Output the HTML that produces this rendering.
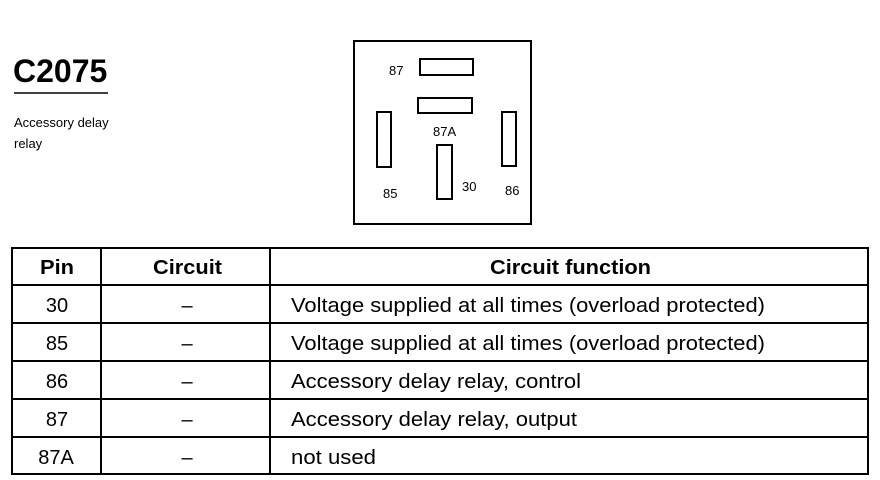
<!DOCTYPE html>
<html><head><meta charset="utf-8"><style>
html,body{margin:0;padding:0;background:#fff;width:880px;height:480px;overflow:hidden}
svg text{font-family:"Liberation Sans",Arial,sans-serif;fill:#000}
</style></head><body>
<svg width="880" height="480" viewBox="0 0 880 480" xmlns="http://www.w3.org/2000/svg">
<text x="13" y="82" font-size="32" font-weight="bold">C2075</text>
<line x1="14" y1="93" x2="108" y2="93" stroke="#000" stroke-width="1.5"/>
<text x="14" y="127" font-size="13">Accessory delay</text>
<text x="14" y="148" font-size="13">relay</text>

<rect x="354" y="41" width="177" height="183" fill="none" stroke="#000" stroke-width="2"/>
<rect x="420" y="59" width="53" height="16" fill="none" stroke="#000" stroke-width="2"/>
<rect x="418" y="98" width="54" height="15" fill="none" stroke="#000" stroke-width="2"/>
<rect x="377" y="112" width="14" height="55" fill="none" stroke="#000" stroke-width="2"/>
<rect x="502" y="112" width="14" height="54" fill="none" stroke="#000" stroke-width="2"/>
<rect x="437" y="145" width="15" height="54" fill="none" stroke="#000" stroke-width="2"/>
<text x="389" y="75" font-size="13">87</text>
<text x="433" y="136" font-size="13">87A</text>
<text x="383" y="198" font-size="13">85</text>
<text x="462" y="191" font-size="13">30</text>
<text x="505" y="195" font-size="13">86</text>

<g stroke="#000" stroke-width="2" fill="none">
<rect x="12" y="248" width="856" height="226"/>
<line x1="101" y1="248" x2="101" y2="474"/>
<line x1="270" y1="248" x2="270" y2="474"/>
<line x1="12" y1="285" x2="868" y2="285"/>
<line x1="12" y1="323" x2="868" y2="323"/>
<line x1="12" y1="361" x2="868" y2="361"/>
<line x1="12" y1="399" x2="868" y2="399"/>
<line x1="12" y1="437" x2="868" y2="437"/>
</g>
<g font-size="20" font-weight="bold">
<text x="40" y="274" textLength="34" lengthAdjust="spacingAndGlyphs">Pin</text>
<text x="153" y="274" textLength="69" lengthAdjust="spacingAndGlyphs">Circuit</text>
<text x="490" y="274" textLength="161" lengthAdjust="spacingAndGlyphs">Circuit function</text>
</g>
<g font-size="20" text-anchor="middle">
<text x="57" y="312">30</text>
<text x="57" y="350">85</text>
<text x="57" y="388">86</text>
<text x="57" y="426">87</text>
<text x="56" y="464">87A</text>
<text x="187" y="312">–</text>
<text x="187" y="350">–</text>
<text x="187" y="388">–</text>
<text x="187" y="426">–</text>
<text x="187" y="464">–</text>
</g>
<g font-size="20">
<text x="291" y="312" textLength="474" lengthAdjust="spacingAndGlyphs">Voltage supplied at all times (overload protected)</text>
<text x="291" y="350" textLength="474" lengthAdjust="spacingAndGlyphs">Voltage supplied at all times (overload protected)</text>
<text x="291" y="388" textLength="290" lengthAdjust="spacingAndGlyphs">Accessory delay relay, control</text>
<text x="291" y="426" textLength="286" lengthAdjust="spacingAndGlyphs">Accessory delay relay, output</text>
<text x="291" y="464" textLength="85" lengthAdjust="spacingAndGlyphs">not used</text>
</g>
</svg>
</body></html>
